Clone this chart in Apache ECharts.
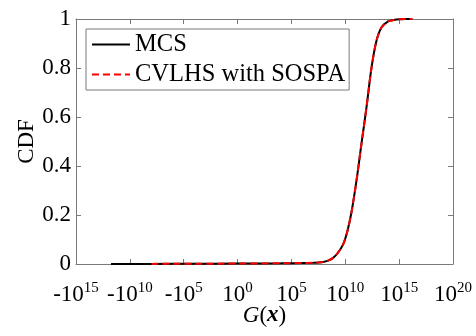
<!DOCTYPE html>
<html><head><meta charset="utf-8">
<script src="https://cdn.jsdelivr.net/npm/echarts@6/dist/echarts.min.js"></script>
<style>html,body{margin:0;padding:0;background:#fff}#c{width:476px;height:336px}</style>
</head><body><div id="c"></div>
<script>
// x positions are signed log10 of G(x): -15 means -10^15, 10 means 10^10
const xTickPositions = [-15, -10, -5, 0, 5, 10, 15, 20];
const xTickBases = ['-10', '-10', '-10', '10', '10', '10', '10', '10'];
const xTickExps = ['15', '10', '5', '0', '5', '10', '15', '20'];
const yTicks = [0, 0.2, 0.4, 0.6, 0.8, 1];

const mcsX = [-11.75, -8, -4, 0, 4, 6, 7, 7.5, 7.94, 8.4, 8.87, 9.3, 9.8, 10.2, 10.57, 11.04, 11.5, 11.97, 12.43, 12.89, 13.36, 13.97, 14.5, 15.06, 15.6, 16.23];
const mcsCdf = [0, 0.0005, 0.001, 0.002, 0.003, 0.004, 0.005, 0.006, 0.008, 0.014, 0.025, 0.045, 0.08, 0.135, 0.21, 0.34, 0.49, 0.64, 0.80, 0.91, 0.965, 0.99, 0.996, 0.999, 1.0, 1.0];
const cvX = [-8, -4, 0, 4, 6, 7, 7.5, 7.94, 8.4, 8.87, 9.3, 9.8, 10.2, 10.57, 11.04, 11.5, 11.97, 12.43, 12.89, 13.36, 13.97, 14.5, 15.06, 15.6, 16.23];
const cvCdf = [0.0005, 0.001, 0.002, 0.003, 0.004, 0.005, 0.006, 0.008, 0.014, 0.025, 0.045, 0.08, 0.135, 0.21, 0.34, 0.49, 0.64, 0.80, 0.91, 0.965, 0.99, 0.996, 0.999, 1.0, 1.0];

const FONT = 'Liberation Serif';
const AX = '#7a7a7a';
const chart = echarts.init(document.getElementById('c'));
const zip = (a, b) => a.map((v, i) => [v, b[i]]);
const baseAxis = () => ({
  axisLine: {show: true, onZero: false, lineStyle: {color: AX, width: 1}},
  axisTick: {show: true, inside: true, length: 5, lineStyle: {color: AX}},
  splitLine: {show: false}
});
chart.setOption({
  animation: false,
  grid: {left: 76, right: 23, top: 19, bottom: 72},
  legend: {
    orient: 'vertical', left: 86, top: 29,
    borderColor: AX, borderWidth: 1, borderRadius: 0,
    padding: [3, 4, 3, 5], itemGap: 5, itemWidth: 38, itemHeight: 14,
    itemStyle: {opacity: 0},
    textStyle: {fontFamily: FONT, fontSize: 24.5, color: '#000'},
    data: ['MCS', 'CVLHS with SOSPA']
  },
  xAxis: [
    Object.assign(baseAxis(), {
      type: 'value', min: -15, max: 20, interval: 5, position: 'bottom',
      name: '{i|G}({bi|x})', nameLocation: 'middle', nameGap: 40, nameMoveOverlap: false,
      nameTextStyle: {fontFamily: FONT, fontSize: 23, color: '#000',
        rich: {i: {fontFamily: FONT, fontSize: 23, fontStyle: 'italic'},
               bi: {fontFamily: FONT, fontSize: 23, fontStyle: 'italic', fontWeight: 'bold'}}},
      axisLabel: {
        margin: 17, color: '#000', fontFamily: FONT, fontSize: 23,
        formatter: v => {
          const i = xTickPositions.indexOf(v);
          return i < 0 ? '' : xTickBases[i] + '{s|' + xTickExps[i] + '}';
        },
        rich: {s: {fontFamily: FONT, fontSize: 15, color: '#000', padding: [0, 0, 12, 0]}}
      }
    }),
    Object.assign(baseAxis(), {
      type: 'value', min: -15, max: 20, interval: 5, position: 'top',
      axisLabel: {show: false}
    })
  ],
  yAxis: [
    Object.assign(baseAxis(), {
      type: 'value', min: 0, max: 1, interval: 0.2, position: 'left',
      name: 'CDF', nameLocation: 'middle', nameGap: 38, nameMoveOverlap: false,
      nameTextStyle: {fontFamily: FONT, fontSize: 23, color: '#000'},
      axisLabel: {margin: 5, color: '#000', fontFamily: FONT, fontSize: 23,
        formatter: v => String(+v.toFixed(1))}
    }),
    Object.assign(baseAxis(), {
      type: 'value', min: 0, max: 1, interval: 0.2, position: 'right',
      axisLabel: {show: false}
    })
  ],
  series: [
    {name: 'MCS', type: 'line', data: zip(mcsX, mcsCdf), symbol: 'none', smooth: 0.3,
     lineStyle: {color: '#000', width: 2}, itemStyle: {color: '#000'}},
    {name: 'CVLHS with SOSPA', type: 'line', data: zip(cvX, cvCdf), symbol: 'none', smooth: 0.3,
     lineStyle: {color: '#ff0000', width: 2, type: [7, 4]}, itemStyle: {color: '#ff0000'}}
  ]
});
</script></body></html>
